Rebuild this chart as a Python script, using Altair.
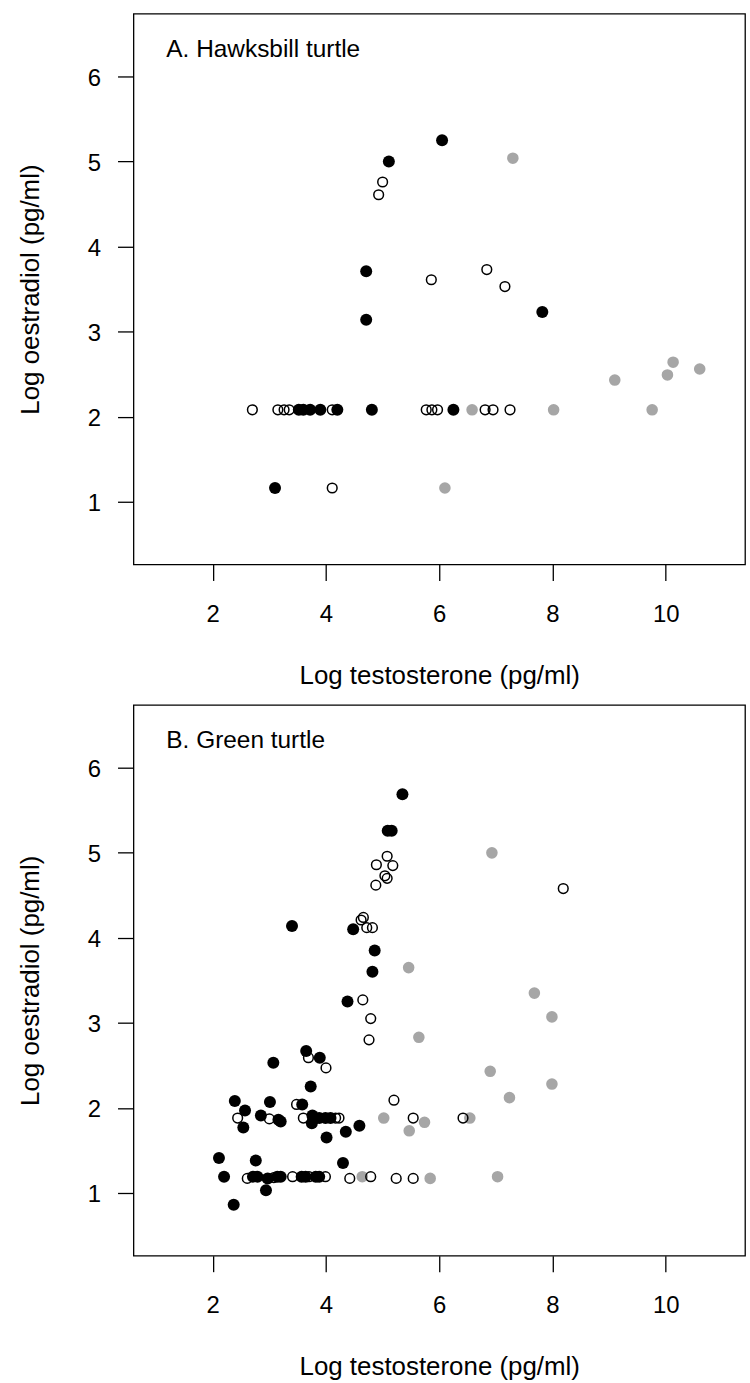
import altair as alt
import pandas as pd

FONT = "Liberation Sans"
T_DOMAIN = [0.6, 11.4]
E_DOMAIN = [0.26, 6.74]
T_TICKS = [2, 4, 6, 8, 10]
E_TICKS = [1, 2, 3, 4, 5, 6]

# ---- A. Hawksbill turtle: log testosterone / log oestradiol ----
hawk_black_t = [6.05, 5.11, 4.71, 4.71, 7.82, 3.10, 3.52, 3.60, 3.72, 3.90, 4.20, 4.81, 6.25]
hawk_black_e = [5.25, 5.00, 3.71, 3.14, 3.23, 1.16, 2.08, 2.08, 2.08, 2.08, 2.08, 2.08, 2.08]
hawk_open_t = [5.00, 4.93, 5.86, 6.84, 7.16, 4.11, 2.70, 3.15, 3.26, 3.35, 4.11, 5.77,
               5.87, 5.97, 6.81, 6.95, 7.25]
hawk_open_e = [4.76, 4.61, 3.61, 3.73, 3.53, 1.16, 2.08, 2.08, 2.08, 2.08, 2.08, 2.08,
               2.08, 2.08, 2.08, 2.08, 2.08]
hawk_grey_t = [7.30, 9.10, 10.13, 10.03, 10.60, 6.10, 6.58, 8.02, 9.76]
hawk_grey_e = [5.04, 2.43, 2.64, 2.49, 2.56, 1.16, 2.08, 2.08, 2.08]

# ---- B. Green turtle ----
green_black_t = [5.35, 5.09, 5.16, 3.40, 4.48, 4.86, 4.82, 4.38, 3.65, 3.89, 3.07, 3.73,
                 2.39, 3.01, 3.58, 2.57, 2.85, 2.54, 3.16, 3.20, 3.76, 3.75, 3.88, 3.99,
                 4.08, 4.01, 4.35, 4.59, 2.11, 2.76, 4.30, 2.20, 2.71, 2.79, 2.97, 2.94,
                 3.14, 3.20, 3.57, 3.64, 3.82, 3.88, 2.37]
green_black_e = [5.69, 5.26, 5.26, 4.14, 4.10, 3.85, 3.60, 3.25, 2.67, 2.59, 2.53, 2.25,
                 2.08, 2.07, 2.04, 1.97, 1.91, 1.77, 1.86, 1.84, 1.91, 1.82, 1.88, 1.88,
                 1.88, 1.65, 1.72, 1.79, 1.41, 1.38, 1.35, 1.19, 1.19, 1.19, 1.17, 1.03,
                 1.19, 1.19, 1.19, 1.19, 1.19, 1.19, 0.86]
green_open_t = [5.08, 4.89, 5.18, 5.04, 5.08, 4.88, 8.19, 4.66, 4.62, 4.72, 4.82, 4.65,
                4.79, 4.76, 3.69, 4.00, 5.20, 3.48, 2.44, 3.00, 3.60, 4.17, 4.23, 5.54,
                6.42, 2.61, 3.08, 3.41, 3.70, 3.99, 4.42, 4.79, 5.24, 5.54]
green_open_e = [4.96, 4.86, 4.85, 4.73, 4.70, 4.62, 4.58, 4.24, 4.21, 4.12, 4.12, 3.27,
                3.05, 2.80, 2.59, 2.47, 2.09, 2.04, 1.88, 1.87, 1.88, 1.88, 1.88, 1.88,
                1.88, 1.17, 1.18, 1.19, 1.19, 1.19, 1.17, 1.19, 1.17, 1.17]
green_grey_t = [6.93, 5.46, 7.68, 7.99, 5.64, 6.90, 7.99, 7.24, 5.02, 5.74, 5.47, 6.54,
                4.64, 5.84, 7.03]
green_grey_e = [5.00, 3.65, 3.35, 3.07, 2.83, 2.43, 2.28, 2.12, 1.88, 1.83, 1.73, 1.88,
                1.19, 1.17, 1.19]


def frame(group, ts, es):
    return pd.DataFrame({"g": group, "t": ts, "e": es})


def panel(label, bt, be, ot, oe, gt, ge):
    df = pd.concat([frame("grey", gt, ge), frame("open", ot, oe), frame("black", bt, be)],
                   ignore_index=True)
    x = alt.X("t:Q",
              scale=alt.Scale(domain=T_DOMAIN, nice=False, zero=False),
              axis=alt.Axis(values=T_TICKS, title="Log testosterone (pg/ml)",
                            titleY=119, titleBaseline="alphabetic", labelPadding=22))
    y = alt.Y("e:Q",
              scale=alt.Scale(domain=E_DOMAIN, nice=False, zero=False),
              axis=alt.Axis(values=E_TICKS, title="Log oestradiol (pg/ml)",
                            titleX=-95, titleBaseline="alphabetic", labelPadding=17,
                            labelOffset=2))
    base = alt.Chart(df).encode(x=x, y=y)
    grey = base.transform_filter(alt.datum.g == "grey").mark_circle(
        size=135, color="#a6a6a6", opacity=1)
    opn = base.transform_filter(alt.datum.g == "open").mark_point(
        shape="circle", size=95, filled=False, stroke="black", strokeWidth=1.5, opacity=1)
    blk = base.transform_filter(alt.datum.g == "black").mark_circle(
        size=145, color="black", opacity=1)
    text = alt.Chart(pd.DataFrame({"label": [label]})).mark_text(
        align="left", baseline="alphabetic", fontSize=24.5, font=FONT, color="black"
    ).encode(x=alt.value(33), y=alt.value(43), text="label:N")
    return alt.layer(grey, opn, blk, text).properties(width=614, height=553)


top = panel("A. Hawksbill turtle", hawk_black_t, hawk_black_e, hawk_open_t, hawk_open_e,
            hawk_grey_t, hawk_grey_e)
bottom = panel("B. Green turtle", green_black_t, green_black_e, green_open_t, green_open_e,
               green_grey_t, green_grey_e)

chart = alt.vconcat(top, bottom, spacing=15).properties(
    padding={"left": 17, "top": 10, "right": 4, "bottom": 0},
    background="white",
).configure_view(
    stroke="black", strokeWidth=1.3
).configure_axis(
    domain=False, grid=False,
    ticks=True, tickSize=16, tickColor="black", tickWidth=1.3,
    labelFont=FONT, labelFontSize=24, labelColor="black", labelFlush=False,
    labelOverlap=False,
    titleFont=FONT, titleFontSize=26, titleFontWeight="normal", titleColor="black",
)

chart.save("out.html", embed_options={"renderer": "svg", "actions": False})
